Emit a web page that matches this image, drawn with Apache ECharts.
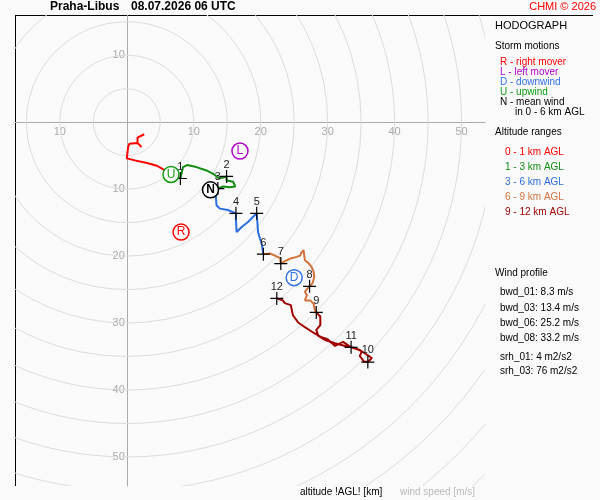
<!DOCTYPE html>
<html>
<head>
<meta charset="utf-8">
<script src="https://cdn.jsdelivr.net/npm/echarts@6/dist/echarts.min.js"></script>
<style>
  html, body { margin: 0; padding: 0; background: #fafafa; }
  #main { width: 600px; height: 500px; }
</style>
</head>
<body>
<div id="main"></div>
<script>
// hodograph data, [u, v] in m/s (v drawn downward)
const tickLabels = [10, 20, 30, 40, 50];
const ringRadii = [5, 10, 15, 20, 25, 30, 35, 40, 45, 50, 55, 60, 65, 70, 75];

const trace0to1 = [[2.6, 1.8], [1.6, 2.3], [1.6, 3.1], [2.2, 3.7], [1.6, 3.1], [0.4, 3.2], [0.2, 3.7],
  [0, 5.4], [1.2, 5.7], [3.0, 6.1], [4.5, 6.5], [5.7, 7.2], [6.8, 7.8], [8.0, 8.4]];
const trace1to3 = [[8.0, 8.4], [8.4, 6.7], [9.0, 6.4], [10.4, 6.7], [11.9, 7.2], [12.9, 7.7], [13.8, 8.4],
  [14.9, 8.1], [14.9, 8.7], [15.9, 8.9], [16.2, 9.6], [15.4, 9.7], [14.4, 9.6], [13.6, 9.9]];
const trace3to6 = [[13.6, 9.9], [13.3, 11.2], [13.4, 12.4], [13.9, 12.9], [15.1, 13.1], [16.3, 13.6],
  [16.3, 14.6], [16.4, 16.4], [17.2, 15.6], [18.1, 14.9], [19.1, 13.9], [19.4, 13.6], [19.5, 14.9],
  [19.6, 16.4], [19.9, 17.4], [20.1, 17.9], [20.4, 19.7]];
const trace6to9 = [[20.4, 19.7], [21.4, 19.6], [22.1, 19.9], [22.9, 20.3], [23.0, 21.1], [23.9, 20.6],
  [24.6, 20.3], [25.4, 20.1], [25.9, 19.9], [26.1, 19.4], [26.4, 19.1], [26.5, 19.9], [26.6, 20.6],
  [27.1, 21.0], [27.6, 21.6], [27.9, 22.3], [28.0, 23.1], [27.7, 24.1], [27.3, 24.5], [26.6, 25.3],
  [26.9, 25.8], [26.6, 26.6], [27.4, 26.6], [27.9, 27.1], [28.1, 28.1], [28.3, 28.4]];
const trace9to12 = [[28.3, 28.4], [28.9, 29.0], [28.9, 30.3], [28.3, 31.0], [28.6, 31.9], [29.6, 32.5],
  [31.1, 33.0], [32.6, 33.4], [34.1, 33.7], [35.1, 34.2], [34.8, 34.9], [35.4, 35.7], [36.0, 35.8],
  [36.6, 35.2], [35.7, 34.6], [34.8, 34.0], [33.5, 33.6], [32.3, 32.8], [31.1, 33.4], [30.0, 32.4],
  [29.1, 32.1], [28.0, 31.5], [26.6, 30.6], [25.6, 29.9], [24.8, 28.8], [24.5, 27.3], [23.6, 27.0],
  [23.3, 26.6], [22.4, 26.3]];

const heightMarks = [[8.0, 8.4], [14.9, 8.1], [13.6, 9.9], [16.3, 13.6], [19.4, 13.6], [20.4, 19.7],
  [23.0, 21.1], [27.3, 24.5], [28.3, 28.4], [36.0, 35.8], [33.5, 33.6], [22.4, 26.3]];
const heightLabels = ['1', '2', '3', '4', '5', '6', '7', '8', '9', '10', '11', '12'];

const stormMotions = [[8.1, 16.4], [16.9, 4.3], [25.0, 23.2], [6.6, 7.8], [12.5, 10.1]];
const stormLetters = ['R', 'L', 'D', 'U', 'N'];

const windProfile = ['bwd_01: 8.3 m/s', 'bwd_03: 13.4 m/s', 'bwd_06: 25.2 m/s', 'bwd_08: 33.2 m/s'];
const helicity = ['srh_01: 4 m2/s2', 'srh_03: 76 m2/s2'];

// styles
const traceColors = ['#ff0000', '#118c11', '#2c6ee0', '#d2733c', '#a00000'];
const stormColors = ['#ff0000', '#b000c8', '#2f6fe6', '#109a10', '#000000'];
const FONT = 'Liberation Sans, Arial, sans-serif';

// plot box and ranges
const G = { left: 15, top: 15, width: 470, height: 471 };
const X_MIN = -16.7, X_MAX = 53.5, Y_MIN = -16, Y_MAX = 54.3;
// move the axes to u=0 / v=0 (onZero does not carry the labels along)
const xOffset = -(G.height - (0 - Y_MIN) / (Y_MAX - Y_MIN) * G.height);
const yOffset = -((0 - X_MIN) / (X_MAX - X_MIN) * G.width);

const chart = echarts.init(document.getElementById('main'));

function txt(x, y, text, size, color, weight, align) {
  return {
    type: 'text', x: x, y: y, silent: true,
    style: {
      text: text, fill: color || '#000', font: (weight || '') + ' ' + size + 'px ' + FONT,
      verticalAlign: 'middle', align: align || 'left'
    }
  };
}

const axisLab = {
  color: '#aaa', fontSize: 11, fontFamily: FONT,
  formatter: v => {
    const r = Math.round(v);
    return (Math.abs(v - r) < 1e-6 && tickLabels.indexOf(Math.abs(r)) >= 0) ? String(Math.abs(r)) : '';
  }
};

const traces = [trace0to1, trace1to3, trace3to6, trace6to9, trace9to12].map((d, i) => ({
  type: 'line', data: d, showSymbol: false, z: 3,
  lineStyle: { color: traceColors[i], width: 2 }, silent: true
}));

const option = {
  backgroundColor: '#fafafa',
  animation: false,
  grid: G,
  xAxis: {
    type: 'value', min: X_MIN, max: X_MAX, position: 'bottom', offset: xOffset,
    axisLine: { onZero: false, lineStyle: { color: '#aaa', width: 1 } },
    axisTick: { show: false }, splitLine: { show: false },
    axisLabel: Object.assign({}, axisLab, { margin: 4 })
  },
  yAxis: {
    type: 'value', min: Y_MIN, max: Y_MAX, inverse: true, position: 'left', offset: yOffset,
    axisLine: { onZero: false, lineStyle: { color: '#aaa', width: 1 } },
    axisTick: { show: false }, splitLine: { show: false },
    axisLabel: Object.assign({}, axisLab, { margin: 2 })
  },
  series: [
    {
      type: 'custom', z: 1, silent: true, clip: true,
      data: ringRadii.map(r => [0, 0, r]),
      encode: { x: 0, y: 1 },
      renderItem: (params, api) => {
        const c = api.coord([0, 0]);
        const r = api.size([api.value(2), 0])[0];
        const cs = params.coordSys;
        return {
          type: 'circle',
          shape: { cx: c[0], cy: c[1], r: r },
          style: { fill: 'none', stroke: '#dcdcdc', lineWidth: 1 },
          clipPath: { type: 'rect', shape: { x: cs.x, y: cs.y, width: cs.width, height: cs.height } }
        };
      }
    }
  ].concat(traces).concat([
    {
      type: 'scatter', z: 5, silent: true,
      data: heightMarks,
      symbol: 'path://M0,6H12M6,0V12', symbolSize: 13,
      itemStyle: { color: 'rgba(0,0,0,0)', borderColor: '#000', borderWidth: 1.2, opacity: 1 },
      label: {
        show: true, position: 'top', distance: -1, color: '#222', fontSize: 11, fontFamily: FONT,
        formatter: p => heightLabels[p.dataIndex]
      }
    },
    {
      type: 'scatter', z: 6, silent: true,
      data: stormMotions.map((v, i) => ({
        value: v,
        itemStyle: { borderColor: stormColors[i] },
        label: { color: stormColors[i], fontWeight: stormLetters[i] === 'N' ? 'bold' : 'normal' }
      })),
      symbol: 'circle', symbolSize: 16,
      itemStyle: { color: '#fff', borderWidth: 1.5, opacity: 1 },
      label: {
        show: true, position: 'inside', fontSize: 12, fontFamily: FONT,
        formatter: p => stormLetters[p.dataIndex]
      }
    }
  ]),
  graphic: [
    { type: 'line', silent: true, shape: { x1: 15, y1: 15.5, x2: 593, y2: 15.5 }, style: { stroke: '#000', lineWidth: 1 } },
    { type: 'line', silent: true, shape: { x1: 15.5, y1: 15, x2: 15.5, y2: 486 }, style: { stroke: '#000', lineWidth: 1 } },
    txt(50, 7, 'Praha-Libus', 12, '#000', 'bold'),
    txt(131, 7, '08.07.2026 06 UTC', 12, '#000', 'bold'),
    txt(596, 7, 'CHMI © 2026', 11, '#ff0000', '', 'right'),
    txt(495, 26, 'HODOGRAPH', 11),
    txt(495, 46, 'Storm motions', 10),
    txt(500, 62, 'R - right mover', 10, stormColors[0]),
    txt(500, 72, 'L - left mover', 10, stormColors[1]),
    txt(500, 82, 'D - downwind', 10, stormColors[2]),
    txt(500, 92, 'U - upwind', 10, stormColors[3]),
    txt(500, 102, 'N - mean wind', 10, '#000'),
    txt(515, 112, 'in 0 - 6 km AGL', 10, '#000'),
    txt(495, 132, 'Altitude ranges', 10),
    txt(505, 152, '0 - 1 km AGL', 10, traceColors[0]),
    txt(505, 167, '1 - 3 km AGL', 10, traceColors[1]),
    txt(505, 182, '3 - 6 km AGL', 10, traceColors[2]),
    txt(505, 197, '6 - 9 km AGL', 10, traceColors[3]),
    txt(505, 212, '9 - 12 km AGL', 10, traceColors[4]),
    txt(495, 273, 'Wind profile', 10),
    txt(500, 292, windProfile[0], 10),
    txt(500, 308, windProfile[1], 10),
    txt(500, 323, windProfile[2], 10),
    txt(500, 338, windProfile[3], 10),
    txt(500, 357, helicity[0], 10),
    txt(500, 371, helicity[1], 10),
    txt(300, 492, 'altitude !AGL! [km]', 10, '#000'),
    txt(400, 492, 'wind speed [m/s]', 10, '#bbbbbb')
  ]
};

chart.setOption(option);
</script>
</body>
</html>
